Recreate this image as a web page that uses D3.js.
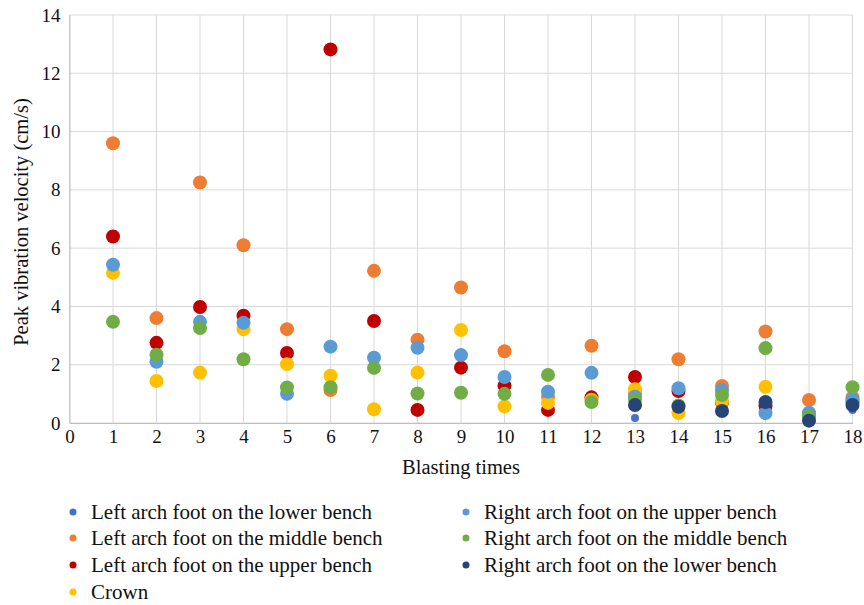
<!DOCTYPE html>
<html>
<head>
<meta charset="utf-8">
<script src="https://cdn.jsdelivr.net/npm/d3@7"></script>
<style>
  html, body { margin: 0; padding: 0; background: #fff; }
  text { font-family: "Liberation Serif", "DejaVu Serif", serif; fill: #111; }
</style>
</head>
<body>
<svg id="chart" width="864" height="605"></svg>
<script>
// Blasting number 1..18
const blasts = d3.range(1, 19);

// Peak vibration velocity (cm/s) per monitoring point, one value per blast (null = not measured)
const leftLower  = [null, null, null, null, null, null, null, null, null, null, null, null, 0.17, 0.5, 0.45, 0.65, 0.1, 0.45];
const leftMiddle = [9.6, 3.6, 8.25, 6.1, 3.22, 1.13, 5.22, 2.86, 4.65, 2.46, 0.9, 2.65, 1.0, 2.19, 1.27, 3.14, 0.79, 0.88];
const leftUpper  = [6.4, 2.75, 3.98, 3.68, 2.4, 12.82, 3.5, 0.45, 1.9, 1.28, 0.45, 0.88, 1.58, 1.1, 0.7, 0.58, 0.3, 0.72];
const crown      = [5.15, 1.44, 1.73, 3.22, 2.02, 1.62, 0.47, 1.73, 3.19, 0.57, 0.69, 0.8, 1.16, 0.34, 0.73, 1.24, 0.3, 0.75];
const rightUpper = [5.43, 2.1, 3.47, 3.44, 1.0, 2.62, 2.24, 2.58, 2.33, 1.58, 1.07, 1.72, 0.9, 1.19, 1.13, 0.34, 0.35, 0.8];
const rightMiddle= [3.47, 2.34, 3.26, 2.19, 1.22, 1.23, 1.89, 1.01, 1.04, 1.0, 1.65, 0.72, 0.8, 0.6, 0.96, 2.57, 0.22, 1.23];
const rightLower = [null, null, null, null, null, null, null, null, null, null, null, null, 0.62, 0.56, 0.41, 0.72, 0.08, 0.62];

const seriesNames = [
  "Left arch foot on the lower bench",
  "Left arch foot on the middle bench",
  "Left arch foot on the upper bench",
  "Crown",
  "Right arch foot on the upper bench",
  "Right arch foot on the middle bench",
  "Right arch foot on the lower bench"
];
const seriesValues = [leftLower, leftMiddle, leftUpper, crown, rightUpper, rightMiddle, rightLower];
const seriesColors = ["#4472C4", "#ED7D31", "#C00000", "#FFC000", "#5B9BD5", "#70AD47", "#264478"];
const seriesRadius = [4, 7, 7, 7, 7, 7, 7];

const xTicks = d3.range(0, 19);
const yTicks = [0, 2, 4, 6, 8, 10, 12, 14];

const svg = d3.select("#chart");
const m = { left: 69.5, right: 852.5, top: 15, bottom: 423 };

const x = d3.scaleLinear().domain([0, 18]).range([m.left, m.right]);
const y = d3.scaleLinear().domain([0, 14]).range([m.bottom, m.top]);

// Grid
const grid = svg.append("g");
grid.selectAll("line.v").data(xTicks).join("line")
  .attr("x1", d => x(d)).attr("x2", d => x(d))
  .attr("y1", m.top).attr("y2", m.bottom)
  .attr("stroke", "#d9d9d9").attr("stroke-width", 1);
grid.selectAll("line.h").data(yTicks).join("line")
  .attr("x1", m.left).attr("x2", m.right)
  .attr("y1", d => y(d)).attr("y2", d => y(d))
  .attr("stroke", "#d9d9d9").attr("stroke-width", 1);

// Axes
const xAxis = svg.append("g").attr("transform", `translate(0,${m.bottom})`)
  .call(d3.axisBottom(x).tickValues(xTicks).tickSize(0).tickPadding(7));
const yAxis = svg.append("g").attr("transform", `translate(${m.left},0)`)
  .call(d3.axisLeft(y).tickValues(yTicks).tickSize(0).tickPadding(9));
[xAxis, yAxis].forEach(a => {
  a.select(".domain").attr("stroke", "#bfbfbf");
  a.selectAll("text").style("font-family", "'Liberation Serif', serif").style("font-size", "19px").attr("fill", "#111");
});

// Axis titles
svg.append("text").attr("x", (m.left + m.right) / 2).attr("y", 474)
  .attr("text-anchor", "middle").style("font-size", "20.5px").text("Blasting times");
svg.append("text").attr("transform", `translate(28,${(m.top + m.bottom) / 2 + 3}) rotate(-90)`)
  .attr("text-anchor", "middle").style("font-size", "20.5px").text("Peak vibration velocity (cm/s)");

// Points, series drawn in legend order so later ones sit on top
seriesValues.forEach((vals, i) => {
  const pts = vals.map((v, j) => ({ b: blasts[j], v })).filter(d => d.v !== null);
  svg.append("g").selectAll("circle").data(pts).join("circle")
    .attr("cx", d => x(d.b)).attr("cy", d => y(d.v))
    .attr("r", seriesRadius[i]).attr("fill", seriesColors[i]);
});

// Legend: two columns
const legendPos = [
  [73, 512], [73, 538], [73, 565], [73, 592],
  [466, 512], [466, 538], [466, 565]
];
const legend = svg.append("g");
seriesNames.forEach((name, i) => {
  const [lx, ly] = legendPos[i];
  legend.append("circle").attr("cx", lx).attr("cy", ly).attr("r", 3.5).attr("fill", seriesColors[i]);
  legend.append("text").attr("x", lx + 18).attr("y", ly).attr("dy", "0.35em")
    .style("font-size", "21px").text(name);
});
</script>
</body>
</html>
